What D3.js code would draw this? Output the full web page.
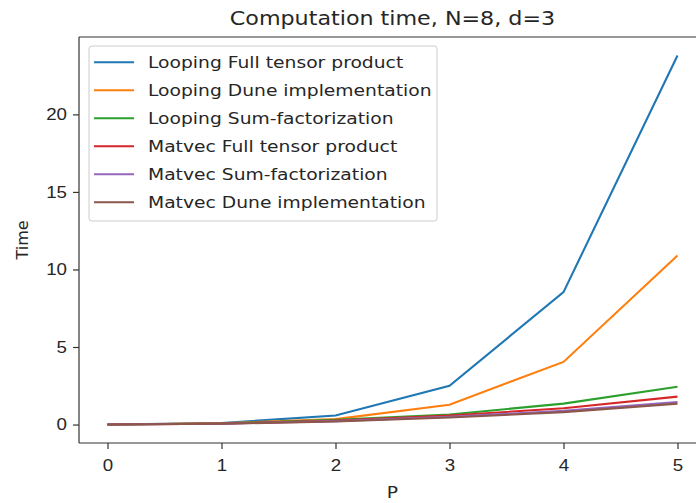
<!DOCTYPE html>
<html lang="en">
<head>
    <meta charset="UTF-8">
    <title>Computation time, N=8, d=3</title>
    <script src="https://d3js.org/d3.v7.min.js"></script>
    <style>
        body { margin: 0; background: #fff; }
        svg { display: block; font-family: "DejaVu Sans", sans-serif; }
        .axis path, .axis line { stroke: #333; stroke-width: 1.2; }
        .axis text { font-size: 16px; fill: #262626; }
        .title { font-size: 19px; text-anchor: middle; fill: #262626; }
        .label { font-size: 16px; text-anchor: middle; fill: #262626; }
        .legend text { font-size: 16px; fill: #262626; }
    </style>
</head>
<body>
<div id="chart"></div>
<script>
    // data
    const pValues = [0, 1, 2, 3, 4, 5];
    const seriesNames = [
        "Looping Full tensor product",
        "Looping Dune implementation",
        "Looping Sum-factorization",
        "Matvec Full tensor product",
        "Matvec Sum-factorization",
        "Matvec Dune implementation"
    ];
    const loopingFull = [0, 0.1, 0.58, 2.5, 8.54, 23.8];
    const loopingDune = [0, 0.08, 0.35, 1.28, 4.04, 10.9];
    const loopingSum = [0, 0.07, 0.3, 0.65, 1.35, 2.44];
    const matvecFull = [0, 0.06, 0.25, 0.58, 1.05, 1.8];
    const matvecSum = [0, 0.05, 0.22, 0.5, 0.88, 1.45];
    const matvecDune = [0, 0.05, 0.2, 0.45, 0.8, 1.35];
    const seriesValues = [loopingFull, loopingDune, loopingSum, matvecFull, matvecSum, matvecDune];
    const colors = ["#1f77b4", "#ff7f0e", "#2ca02c", "#d62728", "#9467bd", "#8c564b"];
    const yTicks = [0, 5, 10, 15, 20];

    // the picture looks horizontally stretched, so text gets widened too
    const stretch = 1.17;

    var svg = d3.select("#chart").append("svg")
            .attr("width", 696)
            .attr("height", 503),
        margin = {top: 37, right: -10, bottom: 60, left: 79},
        width = 696 - margin.left - margin.right,
        height = 503 - margin.top - margin.bottom;

    // matplotlib style 5% margins
    var xPad = (d3.max(pValues) - d3.min(pValues)) * 0.05;
    var yMax = d3.max(seriesValues, function(s) { return d3.max(s); });
    var yPad = yMax * 0.05;

    var x = d3.scaleLinear()
        .domain([d3.min(pValues) - xPad, d3.max(pValues) + xPad])
        .range([0, width]);
    var y = d3.scaleLinear()
        .domain([-yPad, yMax + yPad])
        .range([height, 0]);

    var g = svg.append("g")
        .attr("transform", "translate(" + margin.left + "," + margin.top + ")");

    var line = d3.line()
        .x(function(d, i) { return x(pValues[i]); })
        .y(function(d) { return y(d); });

    g.selectAll(".series")
        .data(seriesValues)
        .enter().append("path")
        .attr("class", "series")
        .attr("fill", "none")
        .attr("stroke", function(d, i) { return colors[i]; })
        .attr("stroke-width", 2.1)
        .attr("d", line);

    g.append("g")
        .attr("class", "axis")
        .attr("transform", "translate(0," + height + ")")
        .call(d3.axisBottom(x).tickValues(pValues).tickSize(6).tickPadding(11).tickFormat(d3.format("d")))
        .call(function(a) {
            a.select(".domain").attr("d", "M0,0H" + width);
            a.selectAll(".tick text").attr("transform", "scale(" + stretch + ",1)");
        });

    g.append("g")
        .attr("class", "axis")
        .call(d3.axisLeft(y).tickValues(yTicks).tickSize(6).tickPadding(6).tickFormat(d3.format("d")))
        .call(function(a) {
            a.select(".domain").attr("d", "M0,0V" + height);
            a.selectAll(".tick text")
                .attr("x", -12 / stretch)
                .attr("transform", "scale(" + stretch + ",1)");
        });

    // top spine
    g.append("line")
        .attr("x1", 0).attr("x2", width)
        .attr("y1", 0).attr("y2", 0)
        .attr("stroke", "#333").attr("stroke-width", 1.2);

    svg.append("text")
        .attr("class", "title")
        .attr("transform", "translate(" + (margin.left + width / 2) + ",25) scale(" + stretch + ",1)")
        .text("Computation time, N=8, d=3");

    svg.append("text")
        .attr("class", "label")
        .attr("transform", "translate(" + (margin.left + width / 2) + ",498) scale(" + stretch + ",1)")
        .text("P");

    svg.append("text")
        .attr("class", "label")
        .attr("transform", "translate(28," + (margin.top + height / 2) + ") rotate(-90)")
        .text("Time");

    // legend
    var legend = svg.append("g")
        .attr("class", "legend")
        .attr("transform", "translate(89,46)");

    legend.append("rect")
        .attr("width", 348)
        .attr("height", 175)
        .attr("rx", 3)
        .attr("fill", "#fff")
        .attr("fill-opacity", 0.8)
        .attr("stroke", "#ccc");

    var rows = legend.selectAll(".row")
        .data(seriesNames)
        .enter().append("g")
        .attr("class", "row")
        .attr("transform", function(d, i) { return "translate(0," + (16.3 + i * 28) + ")"; });

    rows.append("line")
        .attr("x1", 5).attr("x2", 45)
        .attr("stroke", function(d, i) { return colors[i]; })
        .attr("stroke-width", 2.1);

    rows.append("text")
        .attr("transform", "translate(59,0) scale(" + stretch + ",1)")
        .attr("dy", "0.35em")
        .text(function(d) { return d; });
</script>
</body>
</html>
